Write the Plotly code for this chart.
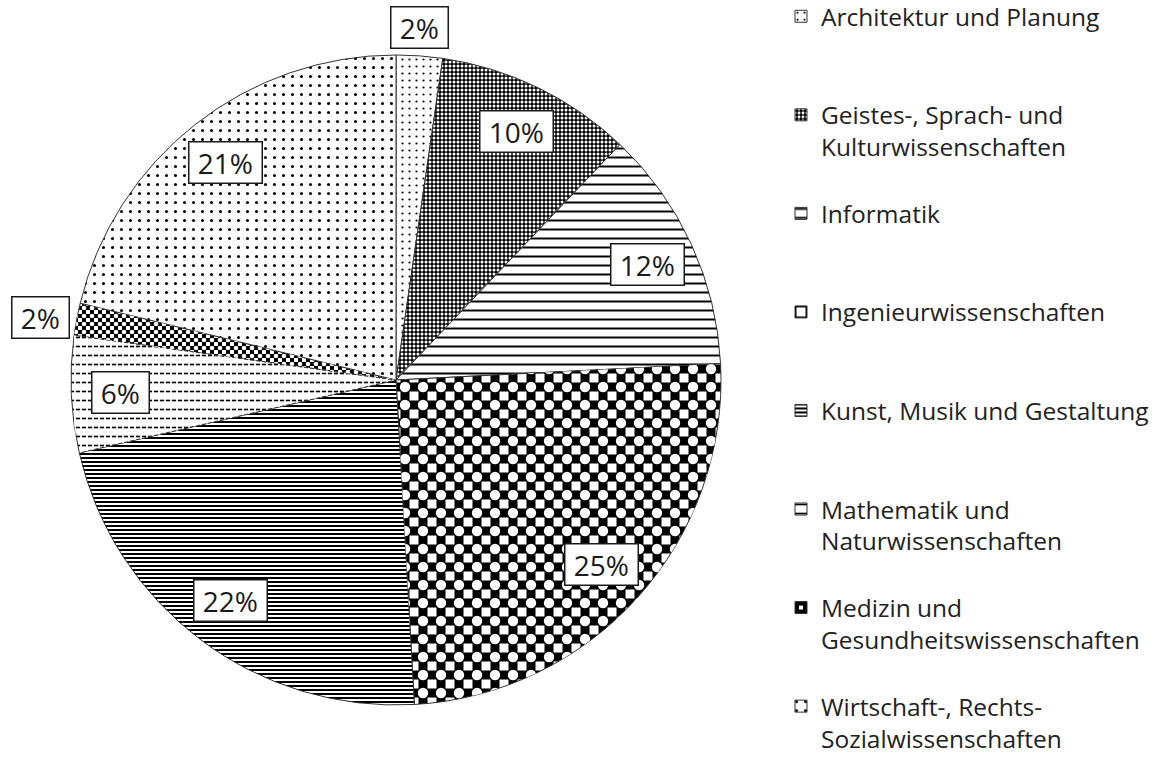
import math
import plotly.graph_objects as go

# ---------------- data ----------------
categories = [
    "Architektur und Planung",
    "Geistes-, Sprach- und Kulturwissenschaften",
    "Informatik",
    "Ingenieurwissenschaften",
    "Kunst, Musik und Gestaltung",
    "Mathematik und Naturwissenschaften",
    "Medizin und Gesundheitswissenschaften",
    "Wirtschaft-, Rechts- Sozialwissenschaften",
]
legend_lines = [
    ["Architektur und Planung"],
    ["Geistes-, Sprach- und", "Kulturwissenschaften"],
    ["Informatik"],
    ["Ingenieurwissenschaften"],
    ["Kunst, Musik und Gestaltung"],
    ["Mathematik und", "Naturwissenschaften"],
    ["Medizin und", "Gesundheitswissenschaften"],
    ["Wirtschaft-, Rechts-", "Sozialwissenschaften"],
]
shares = [2.3, 9.8, 12.1, 24.9, 22.3, 5.8, 1.6, 21.2]

# ---------------- styles ----------------
W, H = 1161, 778
FONT = "Open Sans"
dom_x = [71 / W, 721 / W]
dom_y = [73 / H, 723 / H]

pat_shape = [".", ".", "-", "+", "-", "-", "+", "."]
pat_size = [7, 4, 9, 18, 4, 9, 8, 9]
pat_solid = [0.08, 0.45, 0.22, 0.75, 0.5, 0.18, 0.75, 0.09]
pat_fg = ["black", "white", "black", "black", "black", "black", "black", "black"]
pat_bg = ["white", "black", "white", "white", "white", "white", "white", "white"]

# overlay layer: turns grids into checkerboards, lines into dashes
ov_shape = ["", "", "", ".", "", "|", ".", ""]
ov_size = [8, 8, 8, 18, 8, 6, 8, 8]
ov_solid = [0.26, 0.26, 0.26, 0.26, 0.26, 0.3, 0.26, 0.26]


def legend_text(lines):
    if len(lines) == 1:
        return "<br>" + lines[0] + "<br> "
    return " <br>" + "<br>".join(lines)


legend_labels = [legend_text(l) for l in legend_lines]

fig = go.Figure()
fig.add_trace(go.Pie(
    labels=legend_labels,
    values=shares,
    sort=False,
    direction="clockwise",
    rotation=0,
    textinfo="none",
    hoverinfo="skip",
    domain=dict(x=dom_x, y=dom_y),
    marker=dict(
        colors=["white"] * len(shares),
        line=dict(color="#333333", width=1),
        pattern=dict(
            shape=pat_shape, size=pat_size, solidity=pat_solid,
            fgcolor=pat_fg, bgcolor=pat_bg, fillmode="replace",
        ),
    ),
    showlegend=True,
))
fig.add_trace(go.Pie(
    labels=legend_labels,
    values=shares,
    sort=False,
    direction="clockwise",
    rotation=0,
    textinfo="none",
    hoverinfo="skip",
    domain=dict(x=dom_x, y=dom_y),
    marker=dict(
        colors=["rgba(0,0,0,0)"] * len(shares),
        line=dict(color="rgba(0,0,0,0)", width=0),
        pattern=dict(
            shape=ov_shape, size=ov_size, solidity=ov_solid,
            fgcolor=["white"] * len(shares),
            bgcolor=["rgba(0,0,0,0)"] * len(shares),
            fillmode="replace",
        ),
    ),
    showlegend=False,
))

# ---------------- percentage labels (derived from the data) ----------------
total = sum(shares)
R = min((dom_x[1] - dom_x[0]) * W, (dom_y[1] - dom_y[0]) * H) / 2
xc = (dom_x[0] + dom_x[1]) / 2
yc = (dom_y[0] + dom_y[1]) / 2
annotations = []
cum = 0.0
for v in shares:
    frac = v / total
    mid = cum + frac / 2
    cum += frac
    th = 2 * math.pi * mid
    s, c = math.sin(th), math.cos(th)
    pct = round(frac * 100)
    if frac < 0.03:
        rf = 1.02
        xa = "left" if s > 0.5 else ("right" if s < -0.5 else "center")
        ya = "bottom" if c > 0.5 else ("top" if c < -0.5 else "middle")
    else:
        rf = 0.85
        xa, ya = "center", "middle"
    annotations.append(dict(
        x=xc + rf * R * s / W, y=yc + rf * R * c / H,
        xref="paper", yref="paper", xanchor=xa, yanchor=ya,
        text="\u00a0%d%%\u00a0" % pct, showarrow=False,
        font=dict(family=FONT, size=28, color="#1a1a1a"),
        bgcolor="white", bordercolor="#1a1a1a", borderwidth=1.5, borderpad=1,
    ))

legend_cfg = dict(
    x=781 / W, xanchor="left", yanchor="top",
    font=dict(family=FONT, size=24.5, color="#222222"),
    bgcolor="rgba(0,0,0,0)", borderwidth=0, traceorder="normal",
)
try:
    go.layout.Legend(maxheight=1000)
    legend_cfg["maxheight"] = 1000
    legend_cfg["y"] = 1 + 38 / H
except ValueError:
    legend_cfg["font"]["size"] = 23.5
    legend_cfg["y"] = 1.0

fig.update_layout(
    width=W, height=H,
    margin=dict(l=0, r=0, t=0, b=0, pad=0, autoexpand=False),
    paper_bgcolor="white", plot_bgcolor="white",
    legend=legend_cfg,
    annotations=annotations,
    font=dict(family=FONT),
)

fig.write_html(
    "out.html",
    config={"displayModeBar": False},
    post_script="document.body.style.margin='0px';",
)
